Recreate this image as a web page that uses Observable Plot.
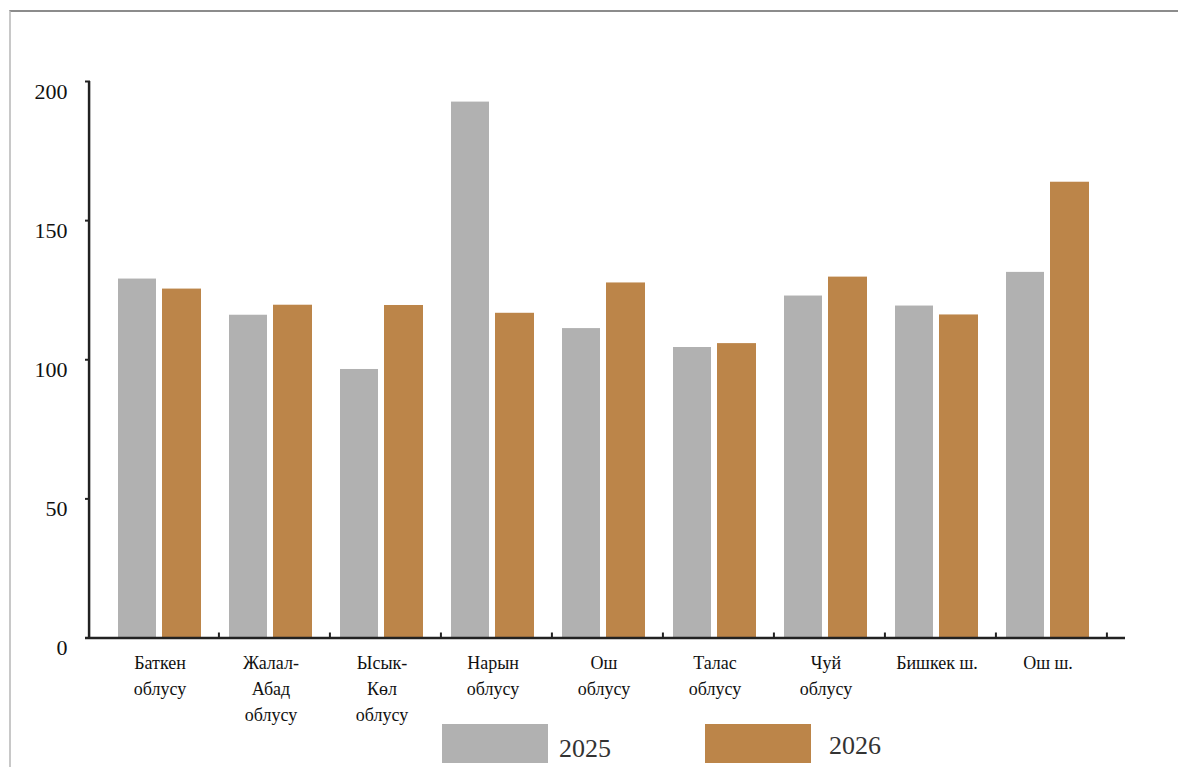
<!DOCTYPE html>
<html>
<head>
<meta charset="utf-8">
<script src="https://cdn.jsdelivr.net/npm/d3@7"></script>
<script src="https://cdn.jsdelivr.net/npm/@observablehq/plot@0.6"></script>
<style>
  body { margin: 0; background: #fff; }
  #wrap { position: relative; width: 1178px; height: 767px; overflow: hidden; background: #fff; }
  #border { position: absolute; left: 9px; top: 10px; width: 1400px; height: 1000px;
            border-top: 2px solid #8c8c8c; border-left: 2px solid #c8c8c8; }
  #chart { position: absolute; left: 0; top: 0; }
  .sw { position: absolute; }
  .lt { position: absolute; font-family: "Liberation Serif", serif; font-size: 26px; color: #333; line-height: 1; }
</style>
</head>
<body>
<div id="wrap">
  <div id="border"></div>
  <div id="chart"></div>
  <div id="legend"></div>
</div>
<script>
const categories = ["Баткен облусу", "Жалал-Абад облусу", "Ысык-Көл облусу", "Нарын облусу", "Ош облусу", "Талас облусу", "Чуй облусу", "Бишкек ш.", "Ош ш."];
const tickLabels = ["Баткен\nоблусу", "Жалал-\nАбад\nоблусу", "Ысык-\nКөл\nоблусу", "Нарын\nоблусу", "Ош\nоблусу", "Талас\nоблусу", "Чуй\nоблусу", "Бишкек ш.", "Ош ш."];
const years = ["2025", "2026"];
const values2025 = [129.0, 116.0, 96.5, 192.6, 111.2, 104.4, 122.9, 119.3, 131.4];
const values2026 = [125.4, 119.6, 119.5, 116.7, 127.6, 105.8, 129.7, 116.1, 163.8];
const yTicks = [0, 50, 100, 150, 200];
const colors = ["#b1b1b1", "#bc8549"];

const rows = categories.flatMap((c, i) => [
  {cat: c, year: years[0], value: values2025[i]},
  {cat: c, year: years[1], value: values2026[i]}
]);

const W = 1178, H = 767;
const mL = 85, mR = 53, mT = 81, mB = H - 637.5;
const xRange = [100, 1106.5];
const bw = (xRange[1] - xRange[0]) / categories.length;
const plotW = W - mL - mR, plotH = H - mT - mB;
const labelOf = new Map(categories.map((c, i) => [c, tickLabels[i]]));

const chart = Plot.plot({
  width: W, height: H,
  marginLeft: mL, marginRight: mR, marginTop: mT, marginBottom: mB,
  style: {fontFamily: "Liberation Serif, serif", color: "#111", background: "transparent"},
  x: {domain: categories, range: xRange, padding: 0, axis: null, label: null},
  y: {domain: [0, 200], axis: null, label: null},
  color: {domain: years, range: colors},
  marks: [
    Plot.barY(rows.filter(d => d.year === years[0]), {x: "cat", y: "value", fill: "year", insetLeft: 14, insetRight: 59}),
    Plot.barY(rows.filter(d => d.year === years[1]), {x: "cat", y: "value", fill: "year", insetLeft: 58, insetRight: 14}),
    Plot.axisY(yTicks, {anchor: "left", label: null, tickSize: 0, tickPadding: 18, fontSize: 22, dy: 10, fill: "#111", stroke: "#111", strokeWidth: 0.3}),
    Plot.axisX({anchor: "bottom", label: null, tickSize: 0, tickPadding: 12, fontSize: 18, lineHeight: 1.45, tickFormat: d => labelOf.get(d), fill: "#111", stroke: "#111", strokeWidth: 0.5}),
    Plot.tickY(yTicks, {y: d => d, insetRight: plotW - 5, stroke: "#222", strokeWidth: 2}),
    Plot.tickX(categories, {x: d => d, dx: bw / 2 + 3, insetTop: plotH - 5, stroke: "#222", strokeWidth: 2}),
    Plot.ruleY([0], {stroke: "#222", strokeWidth: 2.5}),
    Plot.ruleX([categories[0]], {x: d => d, dx: -(bw / 2) - (xRange[0] - mL), y1: 0, y2: 200, stroke: "#222", strokeWidth: 2.5})
  ]
});
document.getElementById("chart").appendChild(chart);

const legend = document.getElementById("legend");
const legendPos = [{sx: 442, tx: 559}, {sx: 705, tx: 829}];
years.forEach((y, i) => {
  const sw = document.createElement("div");
  sw.className = "sw";
  Object.assign(sw.style, {left: legendPos[i].sx + "px", top: "724px", width: "106px", height: "39px", background: colors[i]});
  legend.appendChild(sw);
  const t = document.createElement("div");
  t.className = "lt";
  t.textContent = y;
  Object.assign(t.style, {left: legendPos[i].tx + "px", top: (i === 0 ? 736 : 733) + "px"});
  legend.appendChild(t);
});
</script>
</body>
</html>
